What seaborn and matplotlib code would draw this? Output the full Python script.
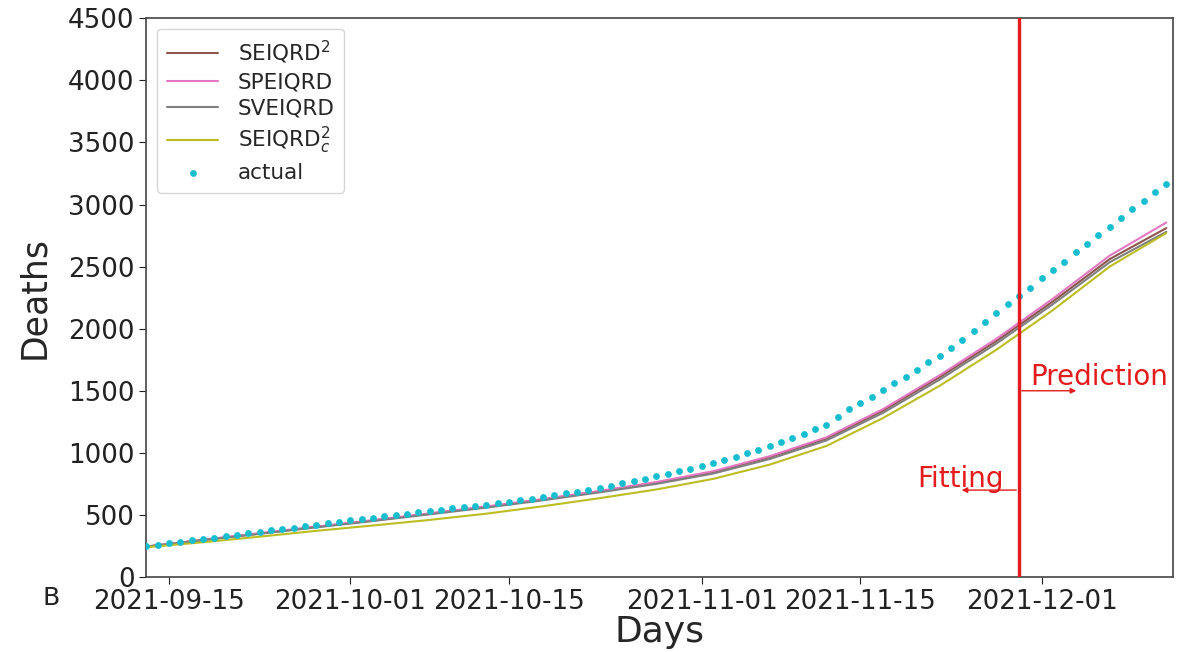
import matplotlib
matplotlib.use("Agg")
import matplotlib.pyplot as plt
import seaborn as sns
import numpy as np
import pandas as pd

# Daily observed deaths, 2021-09-13 .. 2021-12-12
start_date = "2021-09-13"
actual = [250, 261, 272, 284, 296, 307, 318, 330, 341, 352, 363, 375, 386, 398, 410, 422, 434,
          445, 456, 466, 478, 490, 500, 510, 520, 531, 543, 553, 564, 574, 584, 594, 606, 619,
          632, 646, 660, 674, 688, 704, 720, 736, 754, 772,
          790, 810, 832, 852, 872, 898, 922, 944, 968, 995, 1025, 1058, 1090, 1122,
          1152, 1195, 1228, 1288, 1352, 1405, 1452, 1508, 1559,
          1612, 1666, 1733, 1780, 1845, 1912, 1980, 2050, 2125, 2200, 2262, 2330, 2405, 2470,
          2540, 2615, 2685, 2755, 2820, 2890, 2960, 3030, 3100, 3169]

# Model curves, read every 5 days
model_step = 5
seiqrd2 = [245, 298, 350, 403, 455, 510, 565, 625, 690, 760, 845, 965, 1115, 1340, 1610, 1900, 2220, 2560, 2810]
speiqrd = [245, 300, 353, 406, 458, 513, 568, 628, 694, 765, 852, 973, 1125, 1352, 1625, 1918, 2242, 2588, 2855]
sveiqrd = [245, 297, 348, 400, 451, 505, 559, 618, 682, 750, 833, 950, 1100, 1322, 1590, 1880, 2198, 2535, 2780]
seiqrd2c = [240, 280, 325, 372, 415, 460, 510, 570, 635, 705, 790, 905, 1055, 1280, 1540, 1830, 2150, 2500, 2770]

model_names = [r"SEIQRD$^2$", "SPEIQRD", "SVEIQRD", r"SEIQRD$_c^2$"]
model_colors = ["#8c564b", "#e377c2", "#7f7f7f", "#bcbd22"]

split_date = "2021-11-29"
tick_labels = ["2021-09-15", "2021-10-01", "2021-10-15", "2021-11-01", "2021-11-15", "2021-12-01"]

dates = pd.date_range(start_date, periods=len(actual), freq="D")
model_dates = dates[::model_step]

df_actual = pd.DataFrame({"date": dates, "deaths": actual})
frames = []
for name, vals in zip(model_names, [seiqrd2, speiqrd, sveiqrd, seiqrd2c]):
    frames.append(pd.DataFrame({"date": model_dates, "deaths": vals, "model": name}))
df_models = pd.concat(frames, ignore_index=True)

sns.set_style("ticks")
plt.rcParams["font.family"] = ["DejaVu Sans"]

fig, ax = plt.subplots(figsize=(11.8, 6.52), dpi=100)
fig.subplots_adjust(left=0.124, right=0.994, top=0.972, bottom=0.115)

sns.lineplot(data=df_models, x="date", y="deaths", hue="model", hue_order=model_names,
             palette=model_colors, linewidth=1.5, ax=ax)
sns.scatterplot(data=df_actual, x="date", y="deaths", color="#17becf", s=24,
                linewidth=0, label="actual", ax=ax, zorder=3)

split = pd.Timestamp(split_date)
ax.axvline(split, color="#e41a1c", linewidth=2.4, zorder=4)

# Fitting / Prediction markers
ax.annotate("", xy=(split - pd.Timedelta(days=5.3), 700), xytext=(split, 700),
            arrowprops=dict(arrowstyle="-|>", color="#e41a1c", lw=1, mutation_scale=8))
ax.text(split - pd.Timedelta(days=9), 790, "Fitting", color="#e41a1c", fontsize=20,
        va="center", ha="left")
ax.annotate("", xy=(split + pd.Timedelta(days=5.3), 1500), xytext=(split, 1500),
            arrowprops=dict(arrowstyle="-|>", color="#e41a1c", lw=1, mutation_scale=8))
ax.text(split + pd.Timedelta(days=1.0), 1610, "Prediction", color="#e41a1c", fontsize=20,
        va="center", ha="left")

ax.set_xlim(dates[0], dates[-1] + pd.Timedelta(hours=14))
ax.set_ylim(0, 4500)
ax.set_yticks(np.arange(0, 4501, 500))
ax.set_xticks(pd.to_datetime(tick_labels))
ax.set_xticklabels(tick_labels)
ax.tick_params(axis="both", labelsize=18.8, colors="#222222", length=5)
for s in ax.spines.values():
    s.set_color("#444444")
    s.set_linewidth(1.2)

ax.set_xlabel("Days", fontsize=26, labelpad=0)
ax.set_ylabel("Deaths", fontsize=25, labelpad=12)

leg = ax.legend(loc="upper left", fontsize=15.5, frameon=True, handlelength=2.4,
                handletextpad=0.9, borderpad=0.45, labelspacing=0.3)
leg.get_frame().set_edgecolor("#cccccc")

fig.text(0.036, 0.072, "B", fontsize=18, color="#222222")

fig.savefig("out.png", dpi=100)
